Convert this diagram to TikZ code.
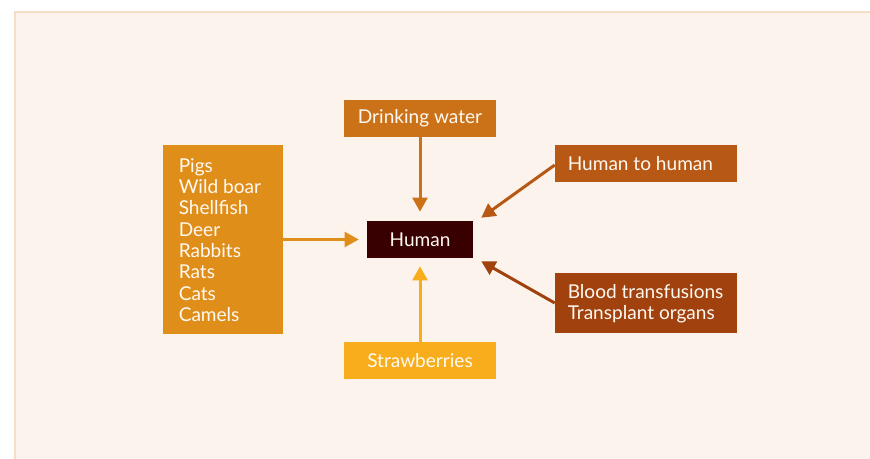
\documentclass[tikz,border=0pt]{standalone}
\usepackage{fontspec}
\setmainfont{Lato}
\usetikzlibrary{arrows.meta}
\definecolor{bgc}{HTML}{FCF3EC}
\definecolor{bordc}{HTML}{F5DEC8}
\definecolor{cAnimals}{HTML}{E08E1A}
\definecolor{cWater}{HTML}{CB7219}
\definecolor{cHuman}{HTML}{380000}
\definecolor{cHH}{HTML}{B75814}
\definecolor{cBlood}{HTML}{A0410E}
\definecolor{cStraw}{HTML}{F8AE1C}
\definecolor{txt}{HTML}{FFF9F2}
\tikzset{
  box/.style={inner sep=0pt, text=txt, font=\fontsize{14.3pt}{16pt}\selectfont},
  conn/.style={line width=2.25pt, -{Triangle[length=10.5pt,width=11pt]}},
}
\begin{document}
\begin{tikzpicture}[x=0.75pt,y=-0.75pt]
\useasboundingbox (0,0) rectangle (870,459);
\fill[bgc] (15,12) rectangle (870,459);
\draw[bordc, line width=1.5pt] (15,459) -- (15,12) -- (870,12);

\node[box, fill=cAnimals, minimum width=90pt, minimum height=141.75pt] (animals) at (223,239.5) {};
\node[box, anchor=west, align=left] (animalstext) at (178.5,240) {Pigs\\Wild boar\\Shellfish\\Deer\\Rabbits\\Rats\\Cats\\Camels};

\node[box, fill=cWater, minimum width=114pt, minimum height=27.75pt] (water) at (420,118.5) {Drinking water};
\node[box, fill=cHuman, minimum width=79.5pt, minimum height=27.75pt] (human) at (420,239.5) {Human};
\node[box, fill=cStraw, minimum width=114pt, minimum height=27.75pt] (straw) at (420,360.5) {Strawberries};

\node[box, fill=cHH, minimum width=136.5pt, minimum height=27.75pt] (hh) at (646,163.5) {};
\node[box, anchor=west] (hhtext) at (567.5,163.5) {Human to human};

\node[box, fill=cBlood, minimum width=136.5pt, minimum height=45pt] (blood) at (646,303) {};
\node[box, anchor=west, align=left] (bloodtext) at (567.5,303.5) {Blood transfusions\\Transplant organs};

\coordinate (hhend) at ([shift={(8,-3)}]human.north east);
\coordinate (bloodend) at ([shift={(8,3)}]human.south east);

\draw[conn, cAnimals] (animals.east) -- ([xshift=-8*0.75pt]human.west);
\draw[conn, cWater] (water.south) -- ([yshift=9*0.75pt]human.north);
\draw[conn, cStraw] (straw.north) -- ([yshift=-8*0.75pt]human.south);
\draw[conn, cHH] ([yshift=-1.5*0.75pt]hh.west) -- (hhend);
\draw[conn, cBlood] (blood.west) -- (bloodend);
\end{tikzpicture}
\end{document}
